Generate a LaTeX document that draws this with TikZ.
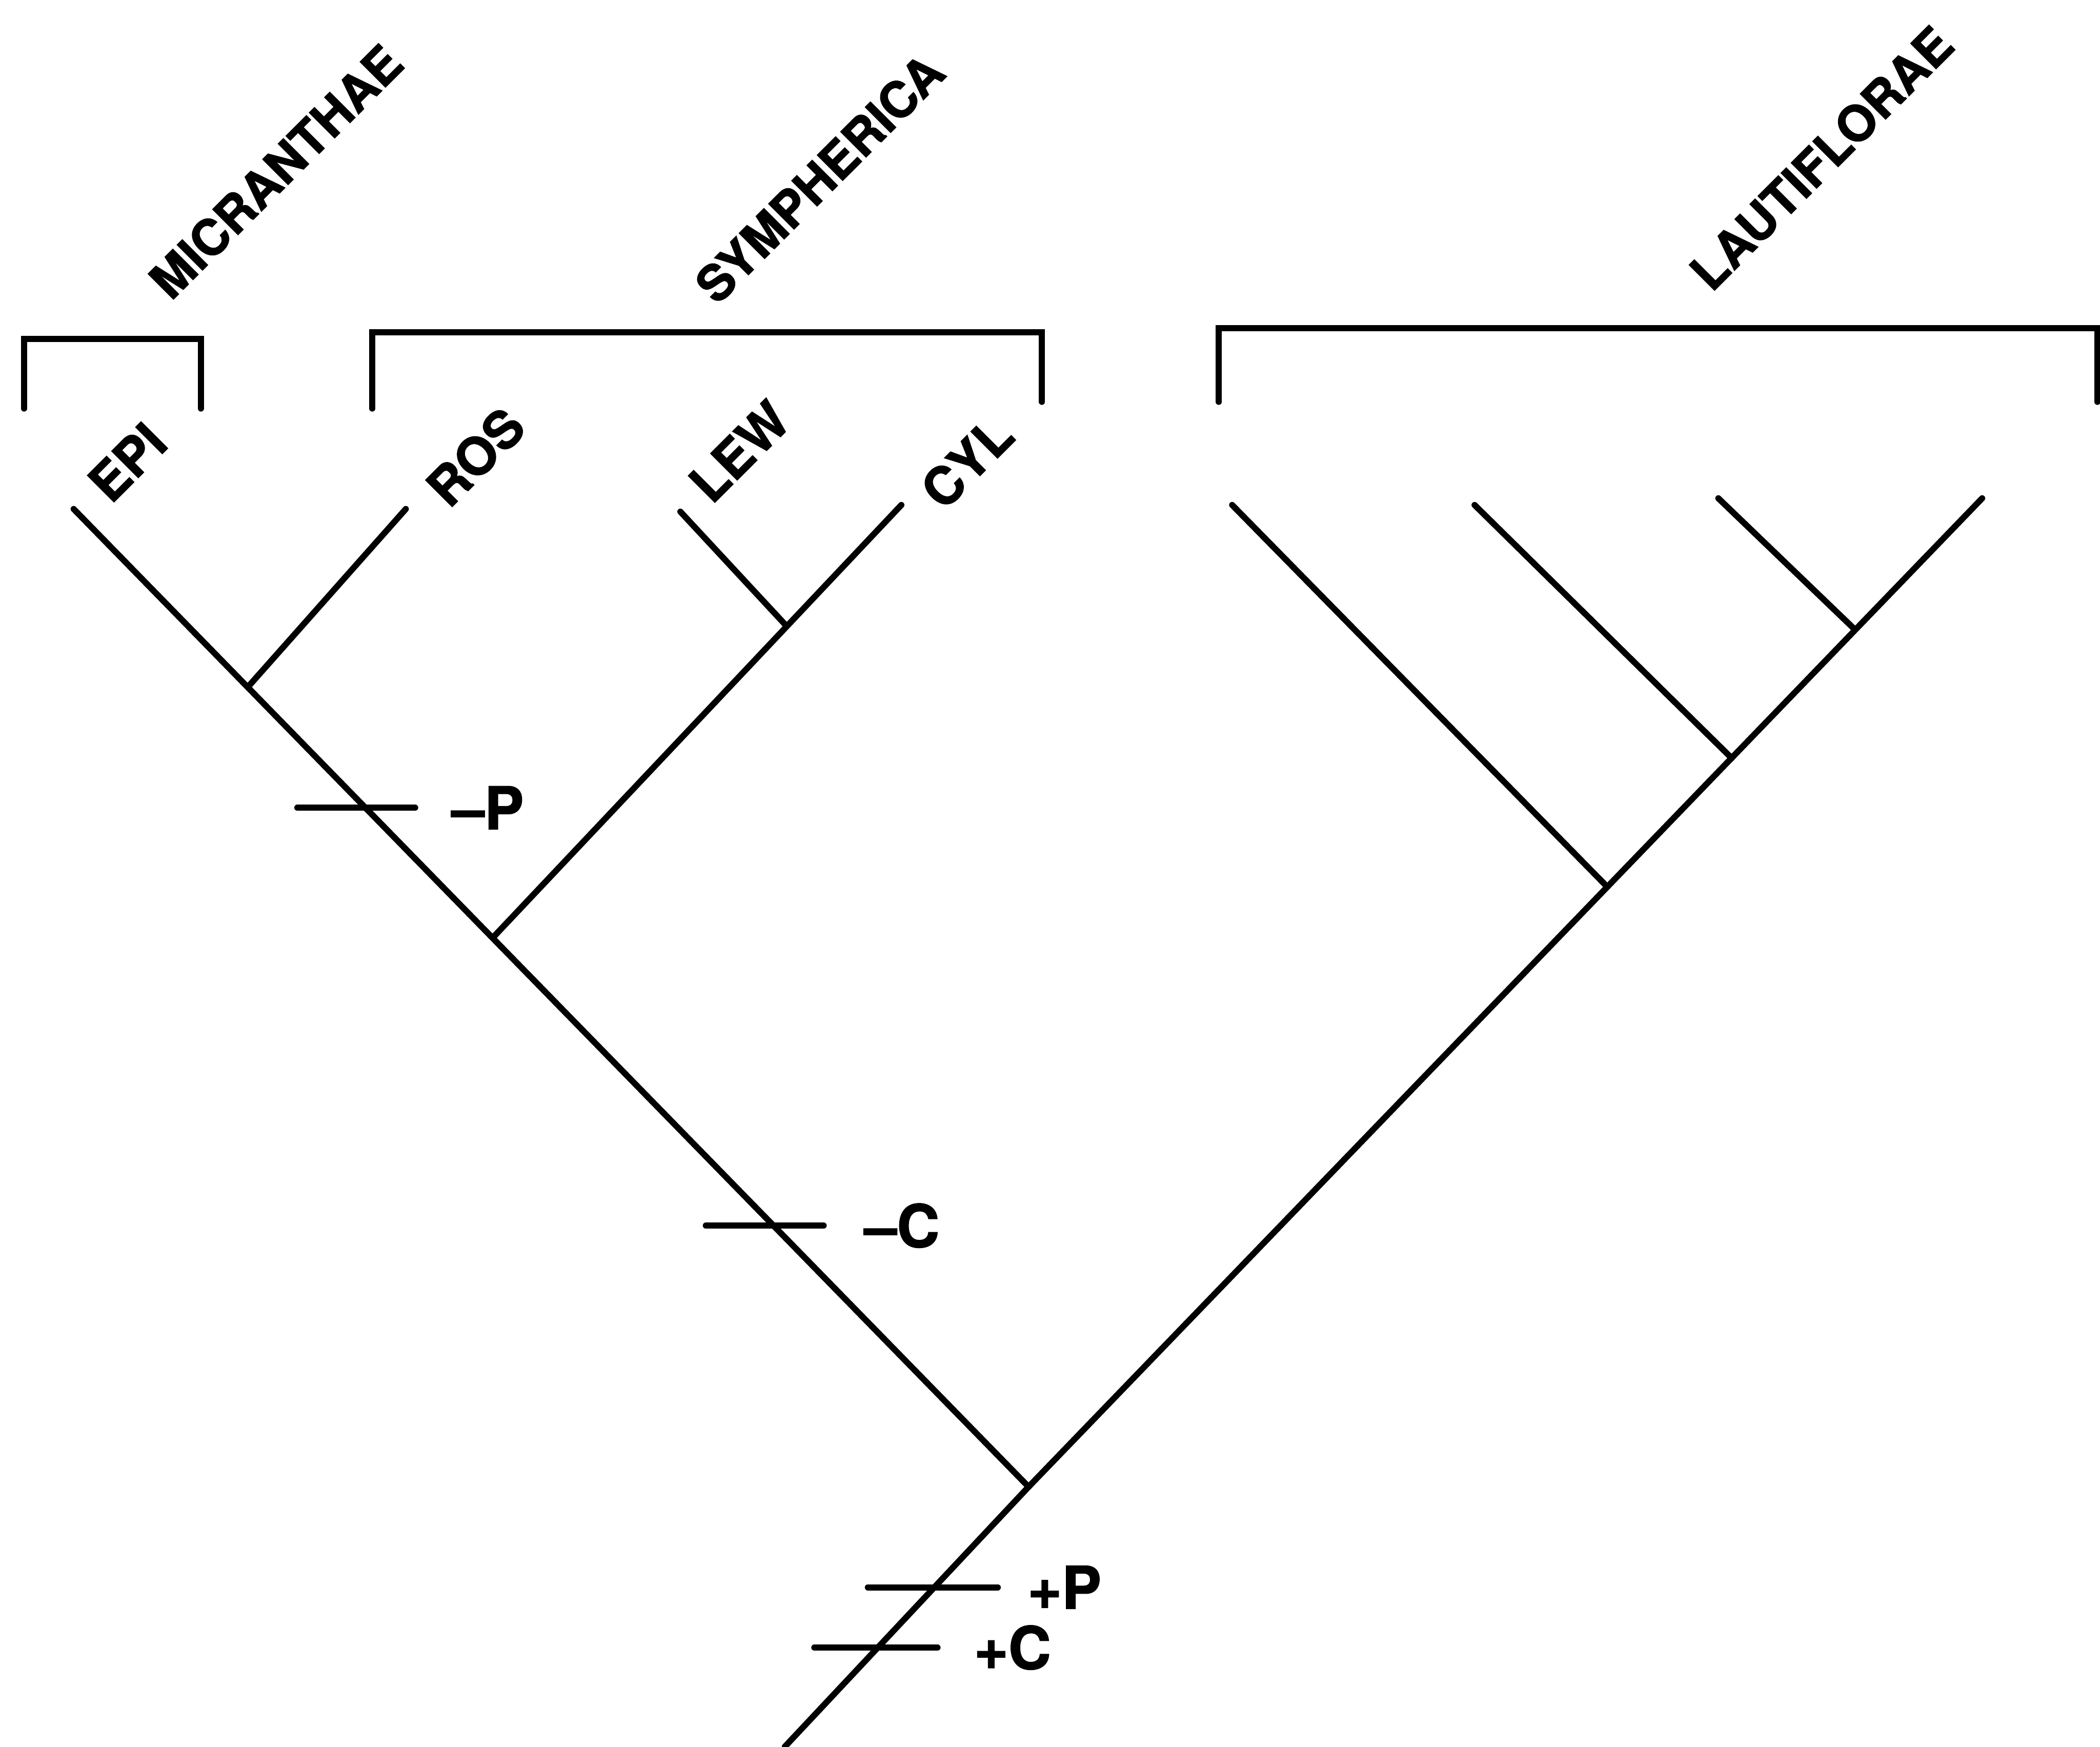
\documentclass[tikz,border=0pt]{standalone}
\usepackage{fontspec}
\setmainfont[BoldFeatures={FakeBold=1.5}]{TeX Gyre Heros}
\usetikzlibrary{positioning}
\begin{document}
\begin{tikzpicture}[line width=1.3pt, line cap=round,
		grp/.style={font=\bfseries\fontsize{10.5}{12}\selectfont, rotate=45, inner sep=0pt},
		tax/.style={font=\bfseries\fontsize{11}{13}\selectfont, rotate=45, inner sep=0pt},
		mk/.style={font=\bfseries\fontsize{12.5}{14}\selectfont, inner sep=0pt, anchor=west}]
			\useasboundingbox (0,0) rectangle (15.68,13.04);

			% Узлы дерева
			\coordinate (root) at (7.68,1.94);
			\coordinate (base) at (5.86,0);
			\coordinate (epi) at (0.55,9.24);
			\coordinate (rosj) at (1.85,7.91);
			\coordinate (ros) at (3.03,9.24);
			\coordinate (symj) at (3.68,6.04);
			\coordinate (cyl) at (6.73,9.27);
			\coordinate (lewj) at (5.86,8.38);
			\coordinate (lew) at (5.08,9.22);
			\coordinate (lau) at (14.80,9.32);
			\coordinate (la1j) at (12.00,6.42);
			\coordinate (la1) at (9.20,9.27);
			\coordinate (la2j) at (12.93,7.38);
			\coordinate (la2) at (11.01,9.27);
			\coordinate (la3j) at (13.85,8.34);
			\coordinate (la3) at (12.83,9.32);

			% Ветви
			\draw (base) -- (root) -- (epi);
			\draw (rosj) -- (ros);
			\draw (symj) -- (cyl);
			\draw (lewj) -- (lew);
			\draw (root) -- (lau);
			\draw (la1j) -- (la1);
			\draw (la2j) -- (la2);
			\draw (la3j) -- (la3);

			% Скобки
			\draw (0.18,9.99) -- (0.18,10.51) -- (1.50,10.51) -- (1.50,9.99);
			\draw (2.78,9.99) -- (2.78,10.56) -- (7.78,10.56) -- (7.78,10.04);
			\draw (9.10,10.04) -- (9.10,10.59) -- (15.66,10.59) -- (15.66,10.04);

			% Подписи групп
			\node[grp] (mic) at (2.06,11.76) {MICRANTHAE};
			\node[grp] (sym) at (6.12,11.71) {SYMPHERICA};
			\node[grp] (lauti) at (13.60,11.86) {LAUTIFLORAE};

			\node[tax] (epit) at (0.95,9.59) {EPI};
			\node[tax] (rost) at (3.55,9.63) {ROS};
			\node[tax] (lewt) at (5.52,9.67) {LEW};
			\node[tax] (cylt) at (7.22,9.59) {CYL};

			% Признаки
			\coordinate (pa) at (2.22,7.01); \coordinate (pb) at (3.10,7.01);
			\coordinate (ca) at (5.27,3.89); \coordinate (cb) at (6.15,3.89);
			\coordinate (ppa) at (6.48,1.19); \coordinate (ppb) at (7.45,1.19);
			\coordinate (pca) at (6.08,0.74); \coordinate (pcb) at (7.00,0.74);
			\draw (pa) -- (pb);
			\draw (ca) -- (cb);
			\draw (ppa) -- (ppb);
			\draw (pca) -- (pcb);
			\node[mk, right=0.25 of pb] (mp) {–P};
			\node[mk, right=0.28 of cb] (mc) {–C};
			\node[mk, right=0.2 of ppb] (pp) {+P};
			\node[mk, right=0.25 of pcb] (pc) {+C};
		\end{tikzpicture}
\end{document}
